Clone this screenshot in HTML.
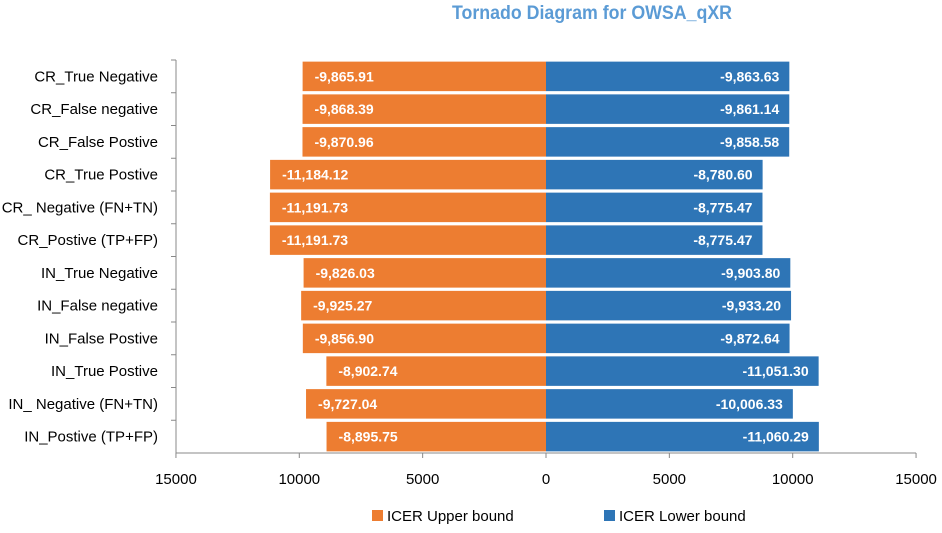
<!DOCTYPE html>
<html><head><meta charset="utf-8"><style>
body{margin:0;background:#fff;font-family:"Liberation Sans",sans-serif}
</style></head><body>
<svg id="c" width="942" height="528" xmlns="http://www.w3.org/2000/svg">
<text x="452" y="19" font-size="19" font-weight="bold" fill="#5b9bd5" textLength="280" lengthAdjust="spacingAndGlyphs">Tornado Diagram for OWSA_qXR</text>
</svg>
<script>
const categories=["CR_True Negative","CR_False negative","CR_False Postive","CR_True Postive","CR_ Negative (FN+TN)","CR_Postive (TP+FP)","IN_True Negative","IN_False negative","IN_False Postive","IN_True Postive","IN_ Negative (FN+TN)","IN_Postive (TP+FP)"];
const upperValues=[-9865.91,-9868.39,-9870.96,-11184.12,-11191.73,-11191.73,-9826.03,-9925.27,-9856.90,-8902.74,-9727.04,-8895.75];
const lowerValues=[-9863.63,-9861.14,-9858.58,-8780.60,-8775.47,-8775.47,-9903.80,-9933.20,-9872.64,-11051.30,-10006.33,-11060.29];
const tickValues=[-15000,-10000,-5000,0,5000,10000,15000];
const tickLabels=["15000","10000","5000","0","5000","10000","15000"];
const svg=document.getElementById('c');const NS='http://www.w3.org/2000/svg';
const x0=546,k=24.67/1000,y0=60,y1=453,band=(y1-y0)/categories.length,bh=29.5;
const X=v=>x0+v*k;
function mk(t,a,p){const e=document.createElementNS(NS,t);for(const n in a)e.setAttribute(n,a[n]);(p||svg).appendChild(e);return e;}
const fmt=v=>v.toLocaleString('en-US',{minimumFractionDigits:2,maximumFractionDigits:2});
categories.forEach((c,i)=>{
 const cy=y0+band*(i+0.5);
 const t=mk('text',{x:158,y:cy+5,'text-anchor':'end','font-size':15,fill:'#000'});t.textContent=c;
 
 
 const u=Math.abs(upperValues[i]);
 const r1=mk('rect',{x:X(-u),y:cy-bh/2,width:u*k,height:bh,fill:'#ed7d31'});
 
 
 const l1=mk('text',{x:X(-u)+12,y:cy+5,'font-size':14,'font-weight':'bold',fill:'#fff'});l1.textContent=fmt(upperValues[i]);
 
 
 const l=Math.abs(lowerValues[i]);
 const r2=mk('rect',{x:x0,y:cy-bh/2,width:l*k,height:bh,fill:'#2e75b6'});
 
 
 const l2=mk('text',{x:X(l)-10,y:cy+5,'text-anchor':'end','font-size':14,'font-weight':'bold',fill:'#fff'});l2.textContent=fmt(lowerValues[i]);
 
 
 const tk=mk('line',{x1:171,x2:176,y1:y0+band*i,y2:y0+band*i,stroke:'#888'});
 
 
});
const ya=mk('line',{x1:176,x2:176,y1:y0,y2:y1,stroke:'#888'});


const xa=mk('line',{x1:X(-15000),x2:X(15000),y1:y1,y2:y1,stroke:'#888'});


tickValues.forEach((v,i)=>{
 const tk=mk('line',{x1:X(v),x2:X(v),y1:y1,y2:y1+5,stroke:'#888'});
 
 
 const t=mk('text',{x:X(v),y:484,'text-anchor':'middle','font-size':15,fill:'#000'});t.textContent=tickLabels[i];
 
 
});
const lg=[["ICER Upper bound","#ed7d31",372],["ICER Lower bound","#2e75b6",604]];
lg.forEach(d=>{
 const g=mk('g',{});
 
 
 mk('rect',{x:d[2],y:510,width:11,height:11,fill:d[1]},g);
 const t=mk('text',{x:d[2]+15,y:521,'font-size':15,fill:'#000'},g);t.textContent=d[0];
});
</script>
</body></html>
